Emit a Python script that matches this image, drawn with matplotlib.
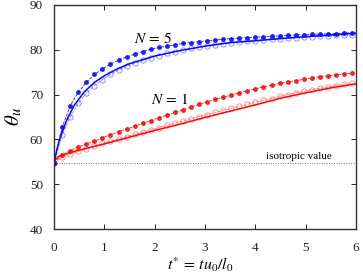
import numpy as np
import matplotlib
matplotlib.use("Agg")
import matplotlib.pyplot as plt

plt.rcParams['font.family'] = ['Liberation Serif', 'DejaVu Serif']
plt.rcParams['mathtext.fontset'] = 'stix'

# tiempos de los puntos simulados
t_pts = [0.00, 0.16, 0.32, 0.48, 0.64, 0.80, 0.96, 1.12, 1.28, 1.44,
         1.60, 1.76, 1.92, 2.08, 2.24, 2.40, 2.56, 2.72, 2.88, 3.04,
         3.20, 3.36, 3.52, 3.68, 3.84, 4.00, 4.16, 4.32, 4.48, 4.64,
         4.80, 4.96, 5.12, 5.28, 5.44, 5.60, 5.76, 5.92]

# N = 5
n5_lleno = [54.7, 62.7, 67.5, 70.5, 72.7, 74.5, 75.7, 76.8, 77.7, 78.4,
            79.0, 79.6, 80.1, 80.5, 80.8, 81.1, 81.4, 81.6, 81.8, 82.0,
            82.2, 82.3, 82.5, 82.6, 82.7, 82.8, 82.9, 83.0, 83.1, 83.2,
            83.3, 83.35, 83.4, 83.5, 83.55, 83.6, 83.7, 83.8]
n5_hueco = [54.7, 61.0, 65.0, 68.1, 70.3, 72.0, 73.3, 74.5, 75.5, 76.3,
            77.0, 77.6, 78.2, 78.7, 79.2, 79.6, 80.0, 80.3, 80.6, 80.9,
            81.1, 81.3, 81.5, 81.7, 81.9, 82.0, 82.2, 82.3, 82.4, 82.6,
            82.7, 82.8, 82.9, 83.0, 83.1, 83.2, 83.3, 83.35]
t_teo5 = [0.0, 0.05, 0.1, 0.15, 0.25, 0.4, 0.6, 0.8, 1.0, 1.25, 1.5,
          2.0, 2.5, 3.0, 3.5, 4.0, 4.5, 5.0, 5.5, 6.0]
n5_teo = [54.7, 57.5, 59.6, 61.3, 64.3, 67.6, 70.6, 72.7, 74.2, 75.7, 76.9,
          78.6, 79.8, 80.8, 81.6, 82.0, 82.5, 82.9, 83.3, 83.7]

# N = 1
n1_lleno = [54.7, 56.5, 57.5, 58.3, 59.0, 59.6, 60.4, 61.0, 61.7, 62.3,
            62.9, 63.6, 64.2, 64.8, 65.4, 66.0, 66.6, 67.2, 67.8, 68.4,
            68.9, 69.4, 69.9, 70.4, 70.9, 71.3, 71.7, 72.1, 72.5, 72.8,
            73.1, 73.4, 73.7, 74.0, 74.2, 74.4, 74.6, 74.8]
n1_hueco = [54.7, 56.0, 56.7, 57.3, 57.9, 58.5, 59.1, 59.6, 60.1, 60.6,
            61.1, 61.6, 62.1, 62.6, 63.1, 63.6, 64.1, 64.6, 65.1, 65.5,
            66.0, 66.5, 66.9, 67.4, 67.8, 68.3, 68.7, 69.1, 69.6, 70.0,
            70.4, 70.7, 71.1, 71.4, 71.7, 72.0, 72.3, 72.6]
t_teo1 = [0.0, 0.03, 0.08, 0.15, 0.3, 0.5, 1.0, 1.5, 2.0, 2.5, 3.0,
          3.5, 4.0, 4.5, 5.0, 5.5, 6.0]
n1_teo = [54.7, 55.5, 56.1, 56.5, 57.0, 57.6, 59.0, 60.5, 62.0, 63.4, 64.9,
          66.3, 67.7, 69.2, 70.4, 71.5, 72.4]

angulo_iso = 54.74

azul = '#0a0aff'
rojo = '#ff0a0a'

fig = plt.figure(figsize=(3.63, 2.73), dpi=100)
ax = fig.add_axes([0.149, 0.161, 0.832, 0.821])

ax.axhline(angulo_iso, color='#777777', lw=0.7, ls=(0, (1, 1.5)))

for lleno, hueco, tt, teo, c in [(n1_lleno, n1_hueco, t_teo1, n1_teo, rojo),
                                 (n5_lleno, n5_hueco, t_teo5, n5_teo, azul)]:
    ax.plot(tt, teo, color=c, lw=1.1)
    ax.plot(t_pts, hueco, color=c, lw=0.6, ls='--', alpha=0.5,
            marker='o', ms=3.8, mfc='none', mew=0.6)
    ax.plot(t_pts, lleno, color=c, lw=0.6, ls='--', alpha=0.9,
            marker='o', ms=3.5, mfc=c, mec=c, mew=0)

ax.text(1.97, 82.4, '$N\\,=\\,5$', fontsize=11, ha='center', va='center')
ax.text(2.30, 68.8, '$N\\,=\\,1$', fontsize=11, ha='center', va='center')
ax.text(4.86, 56.1, 'isotropic value', fontsize=8, ha='center', va='center')

ax.set_xlim(0, 6)
ax.set_ylim(40, 90)
ax.set_xticks(range(0, 7))
ax.set_yticks(range(40, 91, 10))
ax.tick_params(direction='in', length=3.5, width=0.7, top=True, right=True,
               labelsize=9.5, colors='#222222')
ax.tick_params(axis='x', pad=9)
ax.tick_params(axis='y', pad=8)
for s in ax.spines.values():
    s.set_linewidth(1.0)
    s.set_color('#333333')

fig.text(200 / 363, 1 - 265 / 273, '$t^{*}\\,=\\,tu_0/l_0$', fontsize=11.5,
         ha='center', va='center')
ax.set_ylabel('$\\theta_u$', fontsize=15, labelpad=4)

fig.savefig('out.png', dpi=100)
